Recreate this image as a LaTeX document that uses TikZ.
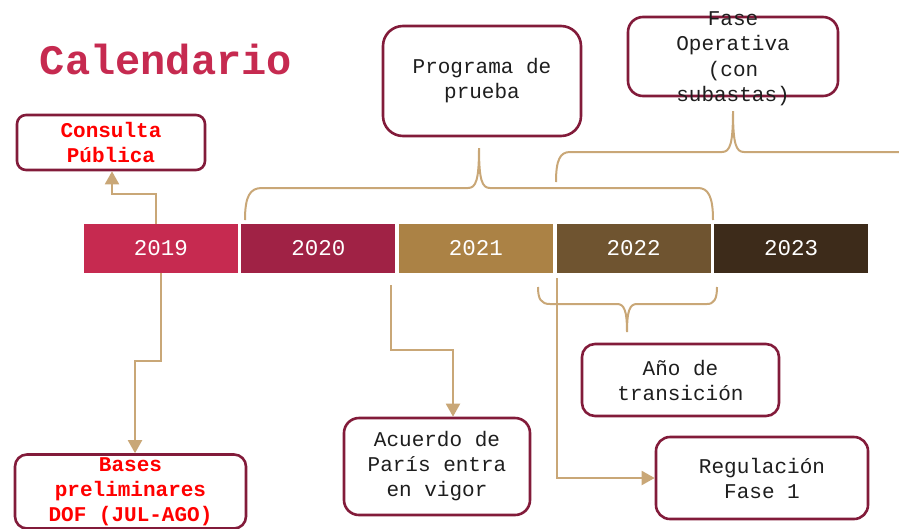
\documentclass[tikz,border=0pt]{standalone}
\usepackage{fontspec}
\setmainfont{Liberation Mono}
\usepackage{tikz}
\usetikzlibrary{positioning}
\usetikzlibrary{arrows.meta}

\definecolor{crimson}{HTML}{C62A50}
\definecolor{wine}{HTML}{A02245}
\definecolor{ochre}{HTML}{AB8245}
\definecolor{umber}{HTML}{6F5430}
\definecolor{cocoa}{HTML}{3D2B1A}
\definecolor{frame}{HTML}{821B3A}
\definecolor{sand}{HTML}{C9A777}
\definecolor{ink}{HTML}{1E1E1E}

\tikzset{
	yearbar/.style={minimum width=154pt, minimum height=49pt, inner sep=0pt,
		text=white, font=\fontsize{22.5}{26}\selectfont},
	tagbox/.style={draw=frame, line width=2.6pt, fill=white, align=center,
		inner sep=1pt, text=ink, font=\fontsize{21}{25}\selectfont},
	redtag/.style={tagbox, text=red, font=\bfseries\fontsize{21}{25}\selectfont},
	link/.style={draw=sand, line width=2pt, -{Triangle[length=13pt,width=14pt]}},
	bracket/.style={draw=sand, line width=2pt}
}

\begin{document}
\begin{tikzpicture}[x=1pt,y=-1pt]
		\useasboundingbox (0,0) rectangle (899,528);
		% title
		\node[text=crimson, font=\bfseries\fontsize{42}{48}\selectfont] (title) at (166,59) {Calendario};
		% timeline
		\node[yearbar, fill=crimson] (y2019) at (161,248.5) {2019};
		\node[yearbar, fill=wine, right=3pt of y2019] (y2020) {2020};
		\node[yearbar, fill=ochre, right=3pt of y2020] (y2021) {2021};
		\node[yearbar, fill=umber, right=3.5pt of y2021] (y2022) {2022};
		\node[yearbar, fill=cocoa, right=3pt of y2022] (y2023) {2023};
		% boxes
		\node[redtag, rounded corners=9pt, minimum width=188pt, minimum height=55pt] (consulta) at (111,142.5) {Consulta\\Pública};
		\node[redtag, rounded corners=12pt, minimum width=231pt, minimum height=74pt] (bases) at (130.5,491.5) {Bases\\preliminares\\DOF (JUL-AGO)};
		\node[tagbox, rounded corners=20pt, minimum width=198pt, minimum height=110pt] (prueba) at (482,81) {Programa de\\prueba};
		\node[tagbox, rounded corners=15pt, minimum width=210pt, minimum height=79pt] (fase) at (733,56.5) {};
		\node[text=ink, align=center, font=\fontsize{21}{25.5}\selectfont] (fasetext) at ([yshift=-2.5pt]fase) {Fase\\Operativa\\(con\\subastas)};
		\node[tagbox, rounded corners=15pt, minimum width=186pt, minimum height=97pt] (acuerdo) at (437,466.5) {Acuerdo de\\París entra\\en vigor};
		\node[tagbox, rounded corners=13pt, minimum width=197pt, minimum height=72pt] (transicion) at (680.5,380) {Año de\\transición};
		\node[tagbox, rounded corners=14pt, minimum width=212pt, minimum height=82pt] (regulacion) at (762,478) {Regulación\\Fase 1};
		% connectors
		\draw[link] ([xshift=-5pt]y2019.north) -- ++(0,-30) -| ([xshift=1pt]consulta.south);
		\draw[link] (y2019.south) -- ++(0,88) -| ([xshift=4.5pt]bases.north);
		\draw[link] ([xshift=-8pt,yshift=-12pt]y2021.south west) -- ++(0,65) -| ([xshift=16pt]acuerdo.north);
		\draw[link] ([yshift=-5pt]y2022.south west) |- (regulacion.west);
		% braces
		\draw[bracket] (245,220) .. controls (245,196) and (250,188) .. (262,188) -- (468,188)
			.. controls (476,188) and (479,180) .. (479,148)
			.. controls (479,180) and (482,188) .. (490,188) -- (698,188)
			.. controls (708,188) and (713,196) .. (713,220);
		\draw[bracket] (556,182) .. controls (556,160) and (560,152) .. (570,152) -- (722,152)
			.. controls (730,152) and (733,144) .. (733,111)
			.. controls (733,144) and (736,152) .. (744,152) -- (905,152);
		\draw[bracket] (538,287) .. controls (538,299) and (541,304) .. (550,304) -- (617,304)
			.. controls (624,304) and (627,310) .. (627,332)
			.. controls (627,310) and (630,304) .. (637,304) -- (707,304)
			.. controls (714,304) and (717,299) .. (717,287);
	\end{tikzpicture}
\end{document}
